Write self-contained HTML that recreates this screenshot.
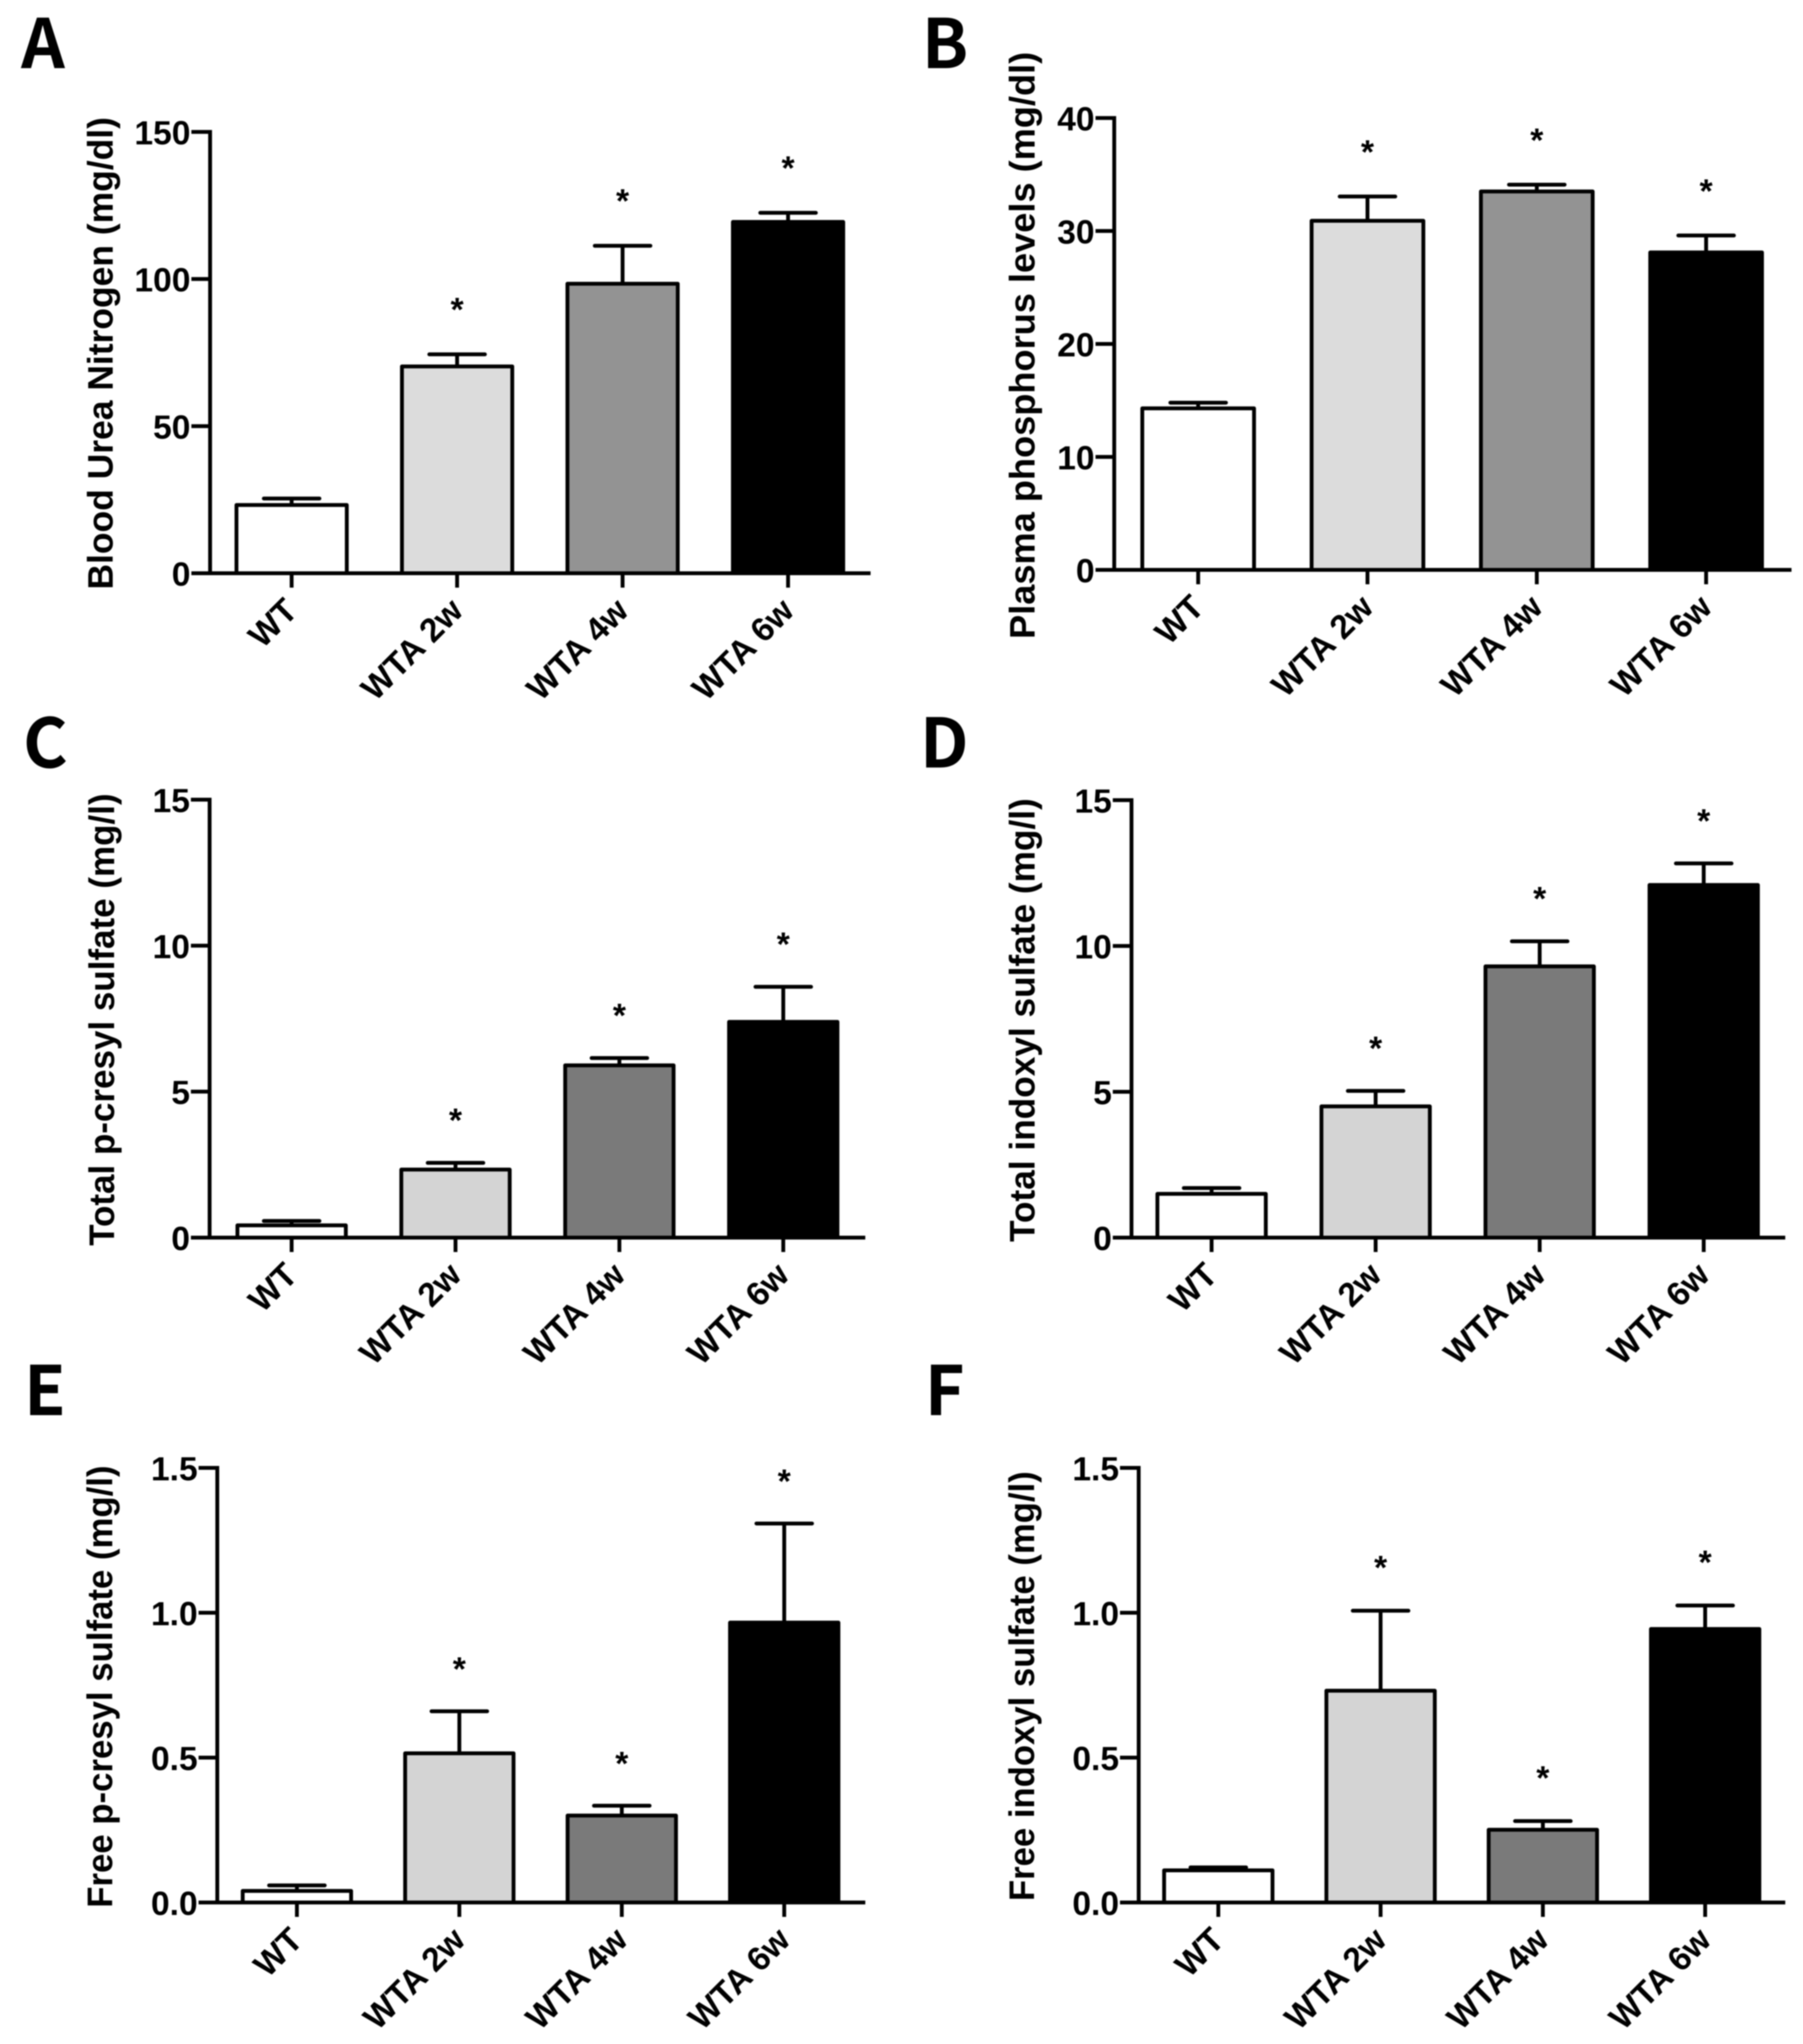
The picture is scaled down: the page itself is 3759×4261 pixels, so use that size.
<!DOCTYPE html>
<html lang="en">
<head>
<meta charset="utf-8">
<title>Uremic markers bar charts</title>
<style>
html,body{margin:0;padding:0;background:#fff;}
svg{display:block;filter:blur(1.2px);}
text{font-family:"Liberation Sans",Arial,sans-serif;font-weight:700;fill:#000;}
.letter{font-family:"Noto Sans CJK JP","Liberation Sans",sans-serif;font-weight:700;font-size:142px;}
</style>
</head>
<body>
<svg id="figure" xmlns="http://www.w3.org/2000/svg" width="3759" height="4261" viewBox="0 0 3759 4261">
<rect width="3759" height="4261" fill="#ffffff"/>
<text class="letter" x="44" y="142">A</text>
<text class="letter" x="1922" y="142">B</text>
<text class="letter" x="48" y="1600">C</text>
<text class="letter" x="1918" y="1600">D</text>
<text class="letter" x="50" y="2950">E</text>
<text class="letter" x="1928" y="2950">F</text>
</svg>
<script>
const categories = ['WT', 'WTA 2w', 'WTA 4w', 'WTA 6w'];

const ticksA = [0, 50, 100, 150];
const valuesA = [23.2, 70.3, 98.4, 119.4];
const errorsA = [2.2, 4.1, 12.9, 3.1];
const starGapA = 16.6;

const ticksB = [0, 10, 20, 30, 40];
const valuesB = [14.3, 30.9, 33.5, 28.1];
const errorsB = [0.5, 2.15, 0.6, 1.5];
const starGapB = 4.3;

const ticksC = [0, 5, 10, 15];
const valuesC = [0.42, 2.33, 5.9, 7.39];
const errorsC = [0.15, 0.23, 0.25, 1.2];
const starGapC = 1.6;

const ticksD = [0, 5, 10, 15];
const valuesD = [1.5, 4.5, 9.3, 12.09];
const errorsD = [0.2, 0.53, 0.86, 0.74];
const starGapD = 1.6;

const ticksE = ['0.0', '0.5', '1.0', '1.5'];
const valuesE = [0.04, 0.515, 0.30, 0.966];
const errorsE = [0.019, 0.145, 0.034, 0.342];
const starGapE = 0.160;

const ticksF = ['0.0', '0.5', '1.0', '1.5'];
const valuesF = [0.111, 0.731, 0.251, 0.944];
const errorsF = [0.01, 0.276, 0.03, 0.081];
const starGapF = 0.163;

const NS = 'http://www.w3.org/2000/svg';
const figure = document.getElementById('figure');

function mk(parent, tag, attrs, text) {
  const el = document.createElementNS(NS, tag);
  for (const k in attrs) el.setAttribute(k, attrs[k]);
  if (text !== undefined) el.textContent = text;
  parent.appendChild(el);
  return el;
}

function drawPanel(id, g, title, ticks, values, errors, starGap) {
  const n = ticks.length - 1;
  const yMax = Number(ticks[n]);
  const y = v => g.y0 + (g.yTop - g.y0) * (v / yMax);
  const x = i => g.c0 + (g.c3 - g.c0) * (i / (categories.length - 1));
  const lw = 8;
  const root = mk(figure, 'g', {});
  
  

  categories.forEach((cat, i) => {
    const cx = x(i), top = y(values[i]), cap = y(values[i] + errors[i]);
    const stem = mk(root, 'line', {x1: cx, x2: cx, y1: top, y2: cap, stroke: '#000', 'stroke-width': 8});
    
    
    const capLine = mk(root, 'line', {x1: cx - 58, x2: cx + 58, y1: cap, y2: cap, stroke: '#000', 'stroke-width': 8, 'stroke-linecap': 'round'});
    
    
    const bar = mk(root, 'rect', {x: cx - (g.bw - lw) / 2, y: top, width: g.bw - lw, height: g.y0 - top, fill: g.fills[i], stroke: '#000', 'stroke-width': lw, 'stroke-linejoin': 'round'});
    
    
    if (i > 0) {
      const fs = 70;
      const star = mk(root, 'text', {x: cx, y: y(values[i] + errors[i] + starGap) + fs * 0.46, 'text-anchor': 'middle', 'font-size': fs}, '*');
      
      
    }
    const tick = mk(root, 'line', {x1: cx, x2: cx, y1: g.y0, y2: g.y0 + 30, stroke: '#000', 'stroke-width': lw});
    
    
    const lab = mk(root, 'text', {transform: 'translate(' + (cx + 16) + ' ' + (g.y0 + 82) + ') rotate(-45)', 'text-anchor': 'end', 'font-size': 70}, cat);
    
    
  });

  const xAxis = mk(root, 'line', {x1: g.xa, x2: g.xEnd, y1: g.y0, y2: g.y0, stroke: '#000', 'stroke-width': lw});
  
  
  const yAxis = mk(root, 'line', {x1: g.xa, x2: g.xa, y1: g.yTop - 4, y2: g.y0 + 3, stroke: '#000', 'stroke-width': lw});
  
  

  ticks.forEach((t, i) => {
    const ty = y(Number(t));
    const tick = mk(root, 'line', {x1: g.xa - 39, x2: g.xa, y1: ty, y2: ty, stroke: '#000', 'stroke-width': lw});
    
    
    const lab = mk(root, 'text', {x: g.xa - 41, y: ty + 26, 'text-anchor': 'end', 'font-size': 70}, String(t));
    
    
  });

  const t = mk(root, 'text', {transform: 'translate(' + g.tx + ' ' + g.tBottom + ') rotate(-90)', textLength: g.tBottom - g.tTop, lengthAdjust: 'spacingAndGlyphs', 'font-size': 74}, title);
  
  
}

const fillsLight = ['#ffffff', '#dcdcdc', '#939393', '#000000'];
const fillsDark = ['#ffffff', '#d4d4d4', '#7a7a7a', '#000000'];

drawPanel('a', {xa: 438, yTop: 275, y0: 1195, xEnd: 1815, c0: 608, c3: 1643, bw: 238, tx: 235, tBottom: 1229, tTop: 244, fills: fillsLight},
  'Blood Urea Nitrogen (mg/dl)', ticksA, valuesA, errorsA, starGapA);
drawPanel('b', {xa: 2323, yTop: 246, y0: 1188, xEnd: 3735, c0: 2498, c3: 3557, bw: 241, tx: 2157, tBottom: 1332, tTop: 108, fills: fillsLight},
  'Plasma phosphorus levels (mg/dl)', ticksB, valuesB, errorsB, starGapB);
drawPanel('c', {xa: 437, yTop: 1667, y0: 2580, xEnd: 1804, c0: 608, c3: 1633, bw: 234, tx: 238, tBottom: 2597, tTop: 1654, fills: fillsDark},
  'Total p-cresyl sulfate (mg/l)', ticksC, valuesC, errorsC, starGapC);
drawPanel('d', {xa: 2359, yTop: 1668, y0: 2580, xEnd: 3722, c0: 2526, c3: 3552, bw: 234, tx: 2157, tBottom: 2589, tTop: 1664, fills: fillsDark},
  'Total indoxyl sulfate (mg/l)', ticksD, valuesD, errorsD, starGapD);
drawPanel('e', {xa: 453, yTop: 3060, y0: 3966, xEnd: 1804, c0: 619, c3: 1635, bw: 234, tx: 234, tBottom: 3977, tTop: 3055, fills: fillsDark},
  'Free p-cresyl sulfate (mg/l)', ticksE, valuesE, errorsE, starGapE);
drawPanel('f', {xa: 2374, yTop: 3060, y0: 3966, xEnd: 3722, c0: 2540, c3: 3555, bw: 234, tx: 2156, tBottom: 3963, tTop: 3067, fills: fillsDark},
  'Free indoxyl sulfate (mg/l)', ticksF, valuesF, errorsF, starGapF);
</script>
</body>
</html>
